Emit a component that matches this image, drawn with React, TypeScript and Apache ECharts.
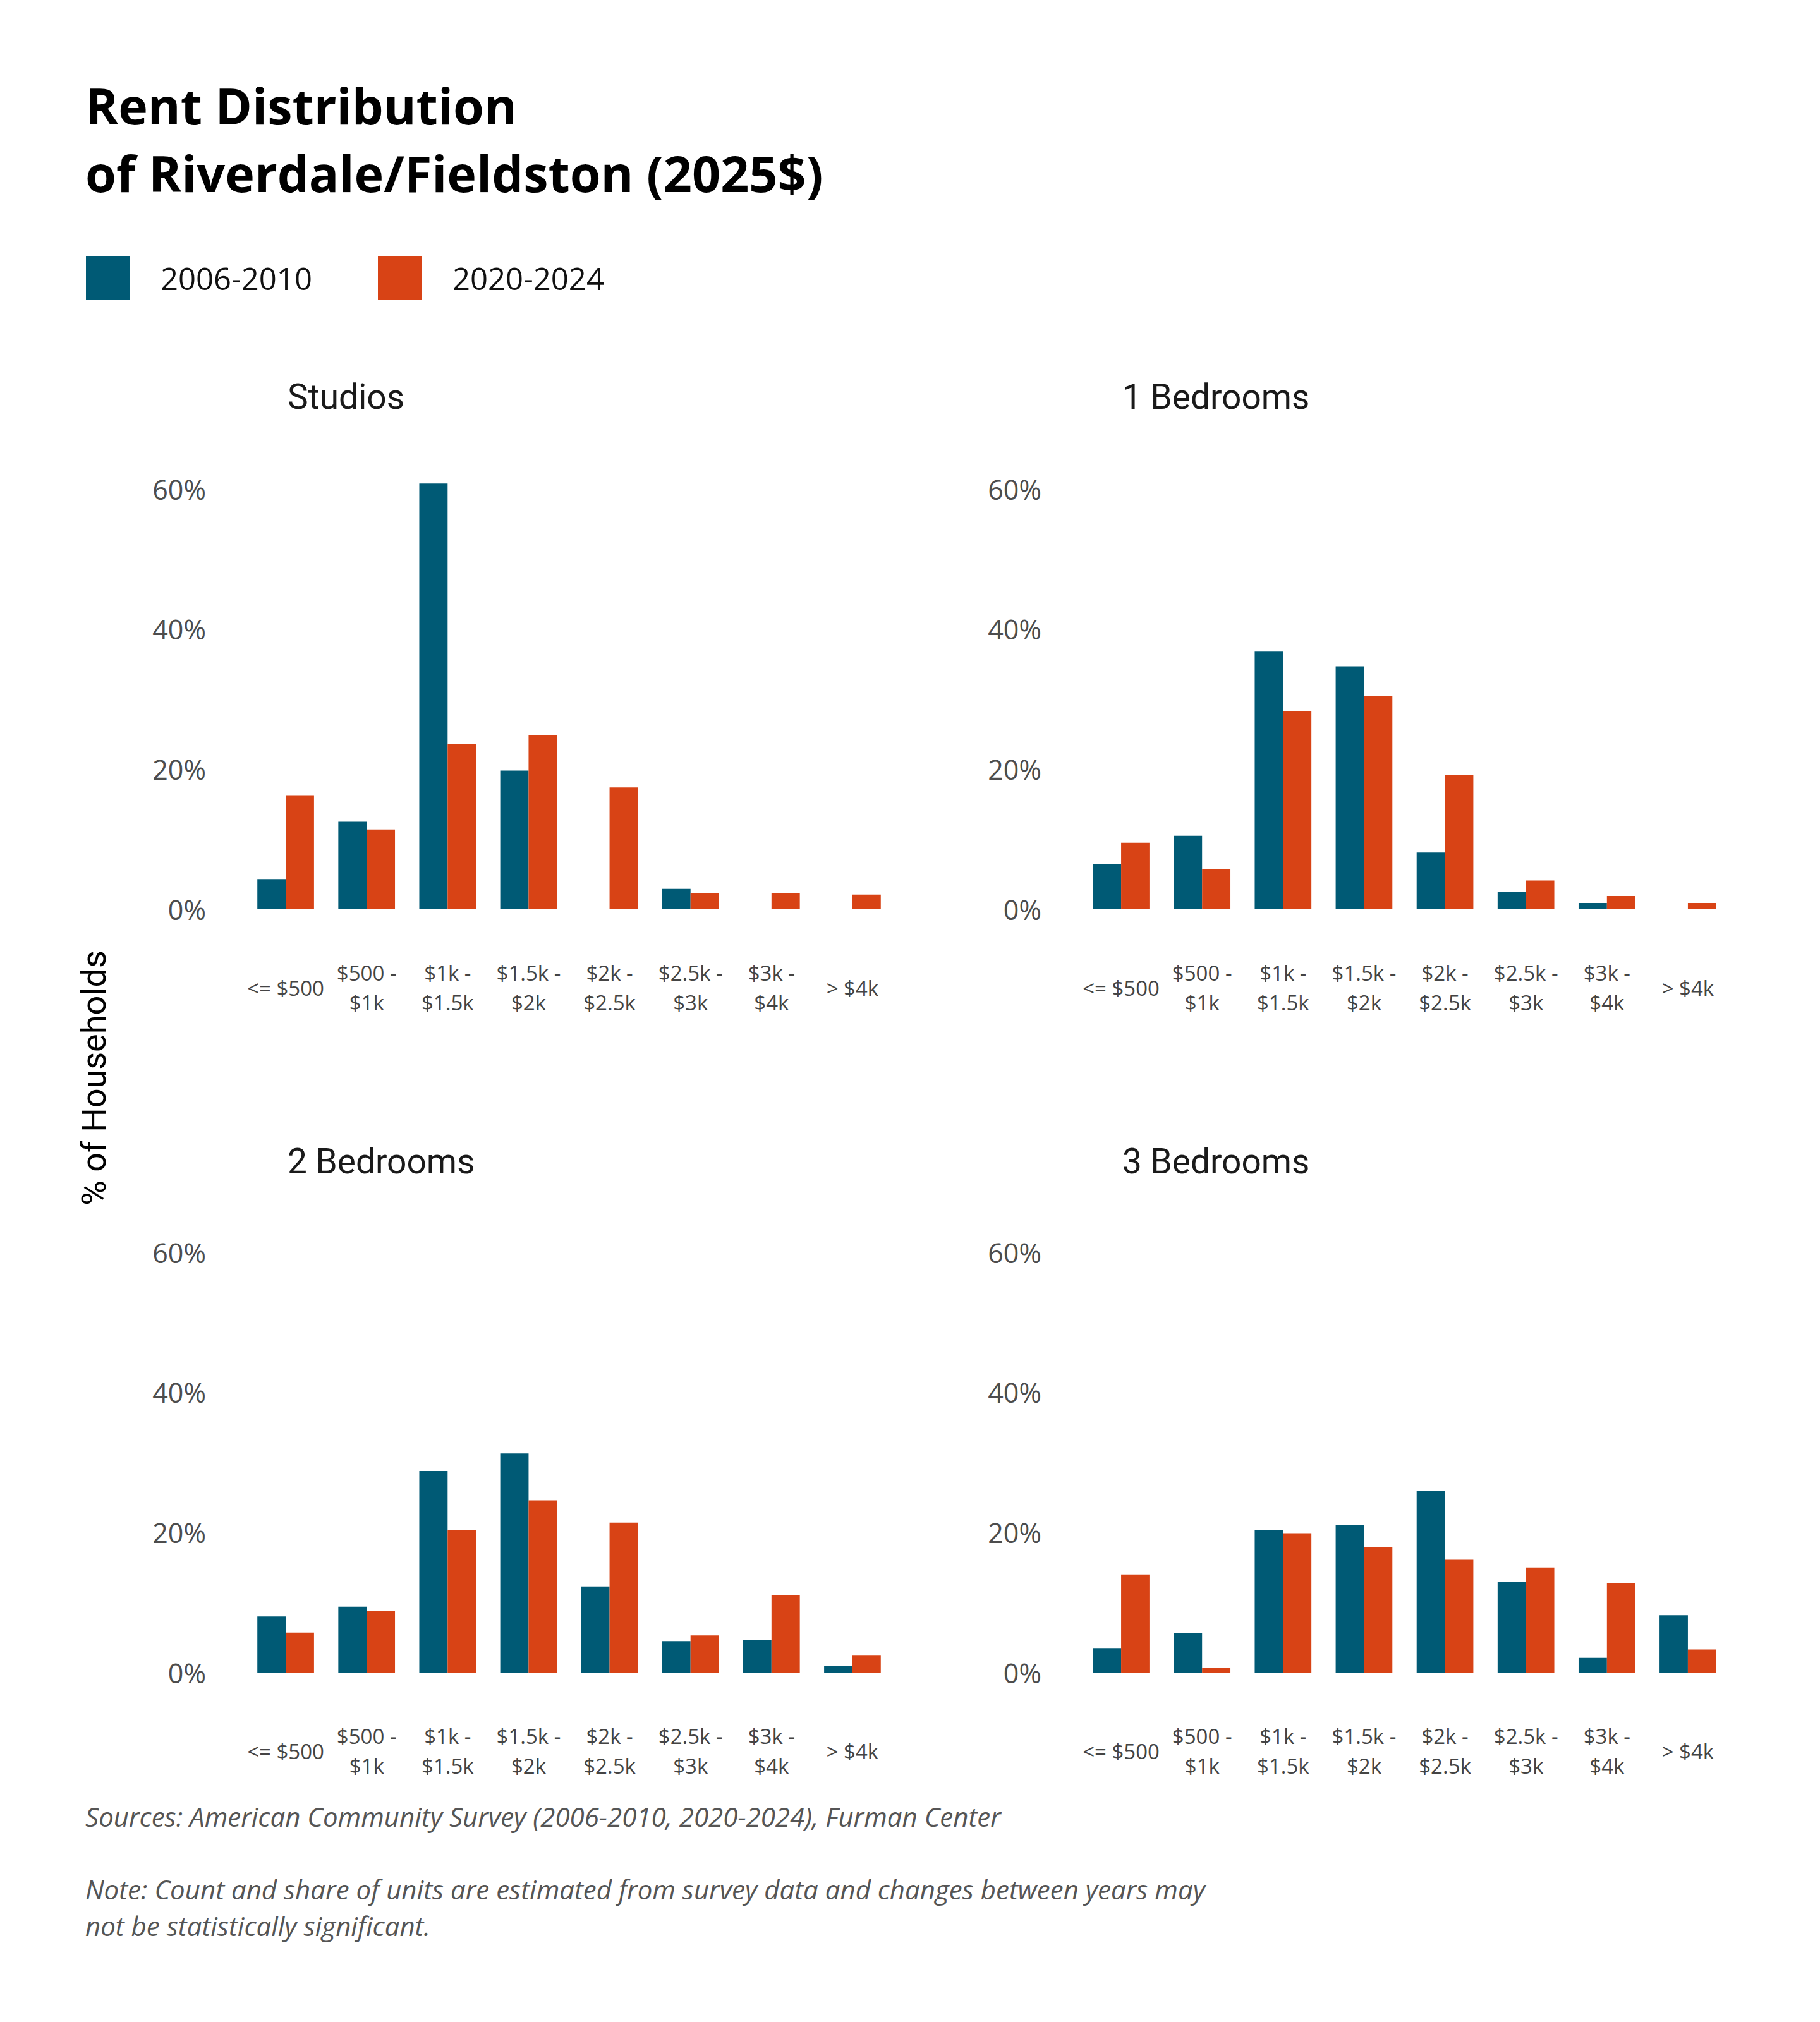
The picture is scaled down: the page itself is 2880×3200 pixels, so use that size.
import React, { useEffect, useRef } from "react";
import * as echarts from "echarts";

const categories = [
  "<= $500",
  "$500 -\n$1k",
  "$1k -\n$1.5k",
  "$1.5k -\n$2k",
  "$2k -\n$2.5k",
  "$2.5k -\n$3k",
  "$3k -\n$4k",
  "> $4k",
];
const seriesNames = ["2006-2010", "2020-2024"];
const panelTitles = ["Studios", "1 Bedrooms", "2 Bedrooms", "3 Bedrooms"];

const studios2006 = [4.3, 12.5, 60.8, 19.8, 0, 2.9, 0, 0];
const studios2020 = [16.3, 11.4, 23.6, 24.9, 17.4, 2.3, 2.3, 2.1];
const oneBed2006 = [6.4, 10.5, 36.8, 34.7, 8.1, 2.5, 0.9, 0];
const oneBed2020 = [9.5, 5.7, 28.3, 30.5, 19.2, 4.1, 1.9, 0.9];
const twoBed2006 = [8.0, 9.4, 28.8, 31.3, 12.3, 4.5, 4.6, 0.9];
const twoBed2020 = [5.7, 8.8, 20.4, 24.6, 21.4, 5.3, 11.0, 2.5];
const threeBed2006 = [3.5, 5.6, 20.3, 21.1, 26.0, 12.9, 2.1, 8.2];
const threeBed2020 = [14.0, 0.7, 19.9, 17.9, 16.1, 15.0, 12.8, 3.3];

const yMin = 0;
const yMax = 62;
const yInterval = 20;

const titleText = "Rent Distribution\nof Riverdale/Fieldston (2025$)";
const yAxisTitle = "% of Households";
const sourceText =
  "Sources: American Community Survey (2006-2010, 2020-2024), Furman Center";
const noteText =
  "Note: Count and share of units are estimated from survey data and changes between years may\nnot be statistically significant.";

const COLORS = ["#005A75", "#D84315"];

export default function App() {
  const ref = useRef<HTMLDivElement>(null);

  useEffect(() => {
    document.body.style.margin = "0";
    if (!ref.current) return;
    const chart = echarts.init(ref.current, null, { renderer: "svg" });

    const panelData = [
      [studios2006, studios2020],
      [oneBed2006, oneBed2020],
      [twoBed2006, twoBed2020],
      [threeBed2006, threeBed2020],
    ];
    const grids = [
      { left: 388, top: 752, width: 1025, height: 687 },
      { left: 1710, top: 752, width: 1025, height: 687 },
      { left: 388, top: 1960, width: 1025, height: 687 },
      { left: 1710, top: 1960, width: 1025, height: 687 },
    ];
    const titlePos = [
      [455, 628],
      [1776, 628],
      [455, 1838],
      [1776, 1838],
    ];

    const xAxes = grids.map((_, i) => ({
      type: "category",
      gridIndex: i,
      data: categories,
      axisLine: { show: false },
      axisTick: { show: false },
      splitLine: { show: false },
      axisLabel: {
        interval: 0,
        margin: 124,
        verticalAlign: "middle",
        lineHeight: 47,
        fontSize: 33,
        color: "#444444",
        fontFamily: "Open Sans",
      },
    }));
    const yAxes = grids.map((_, i) => ({
      type: "value",
      gridIndex: i,
      min: yMin,
      max: yMax,
      interval: yInterval,
      axisLine: { show: false },
      axisTick: { show: false },
      splitLine: { show: false },
      axisLabel: {
        formatter: "{value}%",
        showMaxLabel: false,
        margin: 62,
        fontSize: 43,
        color: "#4d4d4d",
        fontFamily: "Open Sans",
      },
    }));

    const series: any[] = [];
    panelData.forEach((pair, i) => {
      pair.forEach((vals, s) => {
        series.push({
          type: "bar",
          name: seriesNames[s],
          xAxisIndex: i,
          yAxisIndex: i,
          data: vals,
          barGap: "0%",
          barCategoryGap: "30%",
          itemStyle: { color: COLORS[s] },
        });
      });
    });

    const legendBase = {
      top: 405,
      itemWidth: 70,
      itemHeight: 70,
      icon: "rect",
      padding: 0,
      selectedMode: false,
      textStyle: {
        fontSize: 49,
        color: "#111111",
        fontFamily: "Open Sans",
        padding: [0, 0, 0, 43],
      },
    };

    const graphic: any[] = [];
    panelTitles.forEach((t, i) => {
      graphic.push({
        type: "text",
        x: titlePos[i][0],
        y: titlePos[i][1],
        style: {
          text: t,
          font: "55px Roboto",
          fill: "#1a1a1a",
          verticalAlign: "middle",
        },
      });
    });
    graphic.push({
      type: "text",
      x: 148,
      y: 1706,
      rotation: Math.PI / 2,
      style: {
        text: yAxisTitle,
        font: "54px Roboto",
        fill: "#000000",
        align: "center",
        verticalAlign: "middle",
      },
    });
    graphic.push({
      type: "text",
      x: 135,
      y: 2874,
      style: {
        text: sourceText,
        font: "italic 42px 'Open Sans'",
        fill: "#555555",
        verticalAlign: "middle",
      },
    });
    graphic.push({
      type: "text",
      x: 135,
      y: 2960,
      style: {
        text: noteText,
        font: "italic 42px 'Open Sans'",
        lineHeight: 58,
        fill: "#555555",
        verticalAlign: "top",
      },
    });

    chart.setOption({
      animation: false,
      backgroundColor: "#ffffff",
      title: {
        text: titleText,
        left: 135,
        top: 113,
        padding: 0,
        textStyle: {
          fontSize: 79,
          lineHeight: 107,
          fontWeight: "bold",
          color: "#000000",
          fontFamily: "Open Sans",
        },
      },
      legend: [
        { ...legendBase, left: 136, data: [seriesNames[0]] },
        { ...legendBase, left: 598, data: [seriesNames[1]] },
      ],
      grid: grids,
      xAxis: xAxes,
      yAxis: yAxes,
      series,
      graphic,
    });

    return () => {
      chart.dispose();
    };
  }, []);

  return <div ref={ref} style={{ width: 2880, height: 3200 }} />;
}
